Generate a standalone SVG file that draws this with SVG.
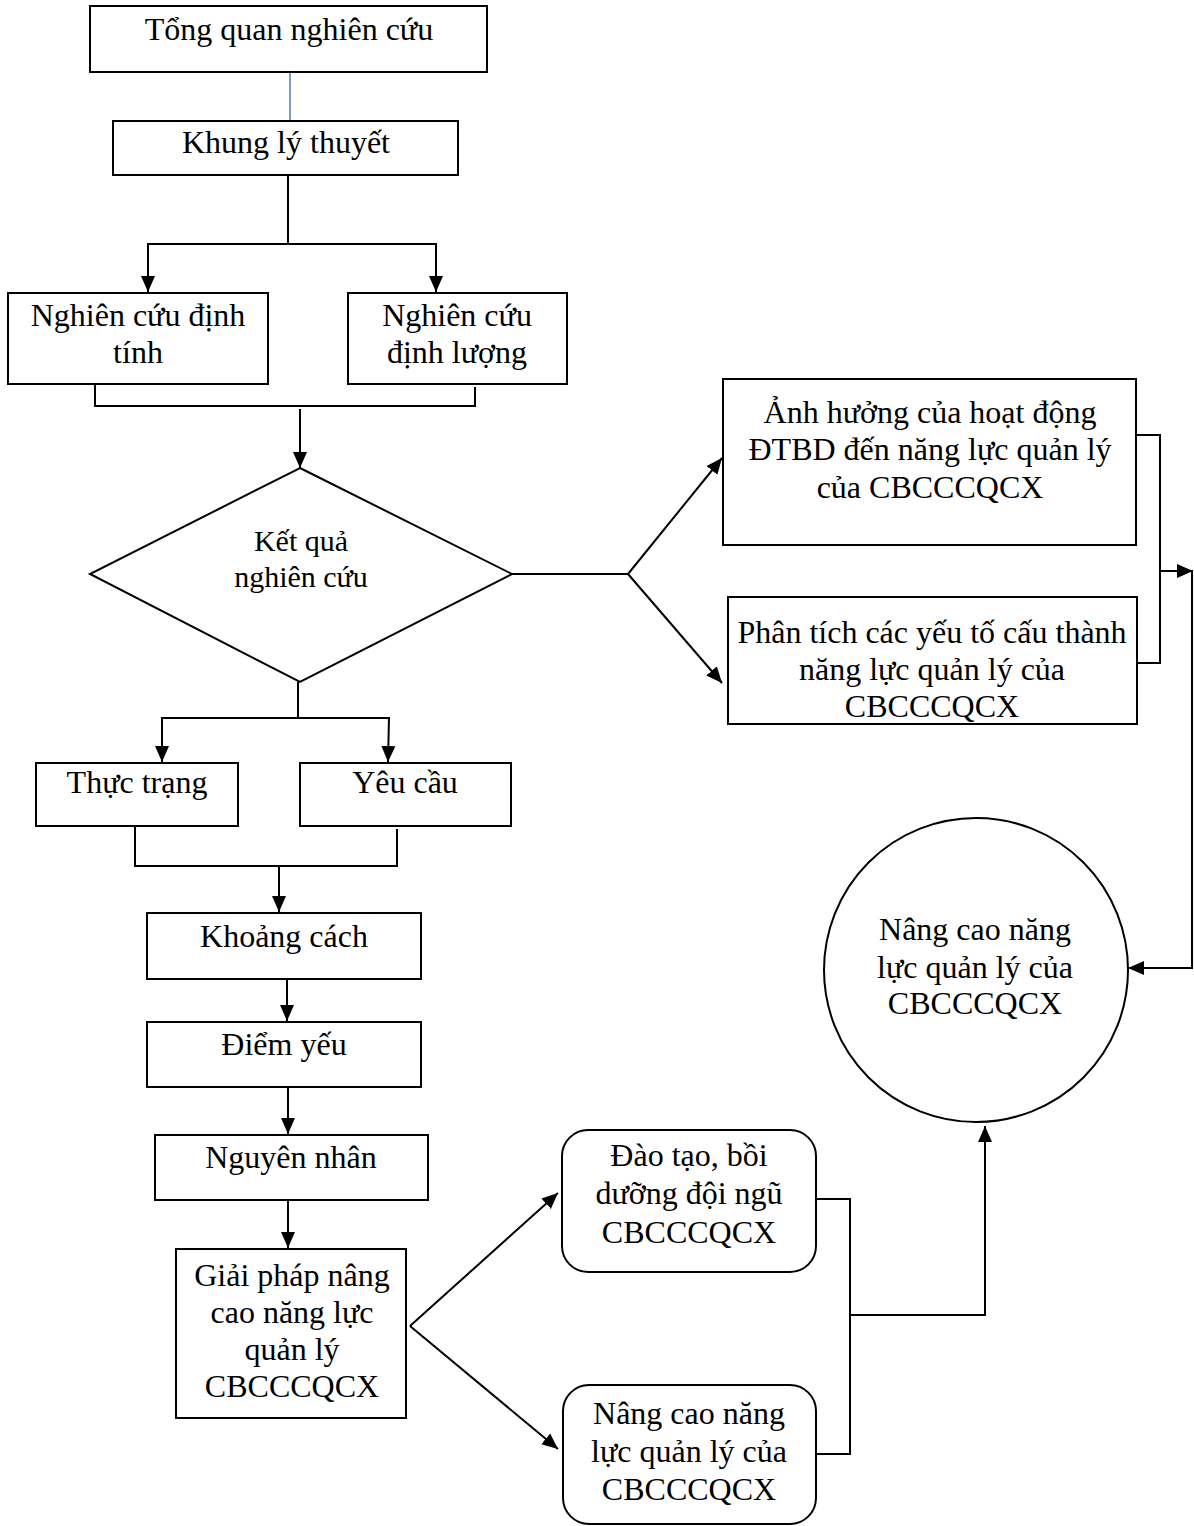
<svg xmlns="http://www.w3.org/2000/svg" width="1194" height="1526" viewBox="0 0 1194 1526">
<defs>
<style>
.b{fill:#fff;stroke:#000;stroke-width:2}
.t{font-family:"Liberation Serif","Times New Roman",serif;font-size:32px;fill:#000;text-anchor:middle}
.s{font-size:30px}
.c{fill:none;stroke:#000;stroke-width:2}
</style>
<marker id="a" markerUnits="userSpaceOnUse" markerWidth="18" markerHeight="16" refX="16" refY="8" orient="auto">
<path d="M0,1 L16,8 L0,15 Z" fill="#000"/>
</marker>
</defs>
<rect width="1194" height="1526" fill="#fff"/>
<g id="connectors">
<line x1="290" y1="72" x2="290" y2="121" stroke="#4a7ebb" stroke-width="1.5"/>
<polyline class="c" points="288,176 288,244"/>
<polyline class="c" points="148,244 436,244"/>
<line class="c" x1="148" y1="243" x2="148" y2="292" marker-end="url(#a)"/>
<line class="c" x1="436" y1="243" x2="436" y2="292" marker-end="url(#a)"/>
<polyline class="c" points="95,384 95,406 475,406 475,387"/>
<line class="c" x1="300" y1="409" x2="300" y2="468" marker-end="url(#a)"/>
<polyline class="c" points="512,574 628,574"/>
<line class="c" x1="628" y1="574" x2="722" y2="458" marker-end="url(#a)"/>
<line class="c" x1="628" y1="574" x2="722" y2="683" marker-end="url(#a)"/>
<polyline class="c" points="1136,435 1160,435 1160,663 1137,663"/>
<line class="c" x1="1160" y1="571" x2="1193" y2="571" marker-end="url(#a)"/>
<polyline class="c" points="1192,571 1192,968 1128,968" marker-end="url(#a)"/>
<line class="c" x1="298" y1="682" x2="298" y2="718"/>
<polyline class="c" points="162,718 390,718"/>
<line class="c" x1="162" y1="717" x2="162" y2="762" marker-end="url(#a)"/>
<line class="c" x1="389" y1="717" x2="388" y2="762" marker-end="url(#a)"/>
<polyline class="c" points="135,827 135,866 397,866 397,829"/>
<line class="c" x1="279" y1="867" x2="279" y2="912" marker-end="url(#a)"/>
<line class="c" x1="287" y1="980" x2="287" y2="1021" marker-end="url(#a)"/>
<line class="c" x1="288" y1="1088" x2="288" y2="1134" marker-end="url(#a)"/>
<line class="c" x1="288" y1="1201" x2="288" y2="1248" marker-end="url(#a)"/>
<line class="c" x1="410" y1="1326" x2="558" y2="1193" marker-end="url(#a)"/>
<line class="c" x1="410" y1="1326" x2="558" y2="1449" marker-end="url(#a)"/>
<polyline class="c" points="816,1199 850,1199 850,1454 816,1454"/>
<polyline class="c" points="850,1315 985,1315 985,1126" marker-end="url(#a)"/>
</g>
<g id="n1"><rect class="b" x="90" y="6" width="397" height="66"/><text class="t" x="289" y="40">Tổng quan nghiên cứu</text></g>
<g id="n2"><rect class="b" x="113" y="121" width="345" height="54"/><text class="t" x="286" y="153">Khung lý thuyết</text></g>
<g id="n3"><rect class="b" x="8" y="293" width="260" height="91"/><text class="t" x="138" y="326">Nghiên cứu định</text><text class="t" x="138" y="363">tính</text></g>
<g id="n4"><rect class="b" x="348" y="293" width="219" height="91"/><text class="t" x="457" y="326">Nghiên cứu</text><text class="t" x="457" y="363">định lượng</text></g>
<g id="n5"><polygon class="b" points="300,468 512,574 300,682 90,574"/><text class="t s" x="301" y="551">Kết quả</text><text class="t s" x="301" y="587">nghiên cứu</text></g>
<g id="n6"><rect class="b" x="723" y="379" width="413" height="166"/><text class="t" x="930" y="423">Ảnh hưởng của hoạt động</text><text class="t" x="930" y="460">ĐTBD đến năng lực quản lý</text><text class="t" x="930" y="498">của CBCCCQCX</text></g>
<g id="n7"><rect class="b" x="728" y="597" width="409" height="127"/><text class="t" x="932" y="643">Phân tích các yếu tố cấu thành</text><text class="t" x="932" y="680">năng lực quản lý của</text><text class="t" x="932" y="717">CBCCCQCX</text></g>
<g id="n8"><rect class="b" x="36" y="763" width="202" height="63"/><text class="t" x="137" y="793">Thực trạng</text></g>
<g id="n9"><rect class="b" x="300" y="763" width="211" height="63"/><text class="t" x="405" y="793">Yêu cầu</text></g>
<g id="n10"><rect class="b" x="147" y="913" width="274" height="66"/><text class="t" x="284" y="947">Khoảng cách</text></g>
<g id="n11"><rect class="b" x="147" y="1022" width="274" height="65"/><text class="t" x="284" y="1055">Điểm yếu</text></g>
<g id="n12"><rect class="b" x="155" y="1135" width="273" height="65"/><text class="t" x="291" y="1168">Nguyên nhân</text></g>
<g id="n13"><rect class="b" x="176" y="1249" width="230" height="169"/><text class="t" x="292" y="1286">Giải pháp nâng</text><text class="t" x="292" y="1323">cao năng lực</text><text class="t" x="292" y="1360">quản lý</text><text class="t" x="292" y="1397">CBCCCQCX</text></g>
<g id="n14"><circle class="b" cx="976" cy="970" r="152"/><text class="t" x="975" y="940">Nâng cao năng</text><text class="t" x="975" y="978">lực quản lý của</text><text class="t" x="975" y="1014">CBCCCQCX</text></g>
<g id="n15"><rect class="b" x="562" y="1130" width="254" height="142" rx="26"/><text class="t" x="689" y="1166">Đào tạo, bồi</text><text class="t" x="689" y="1204">dưỡng đội ngũ</text><text class="t" x="689" y="1243">CBCCCQCX</text></g>
<g id="n16"><rect class="b" x="563" y="1385" width="253" height="139" rx="26"/><text class="t" x="689" y="1424">Nâng cao năng</text><text class="t" x="689" y="1462">lực quản lý của</text><text class="t" x="689" y="1500">CBCCCQCX</text></g>
</svg>
